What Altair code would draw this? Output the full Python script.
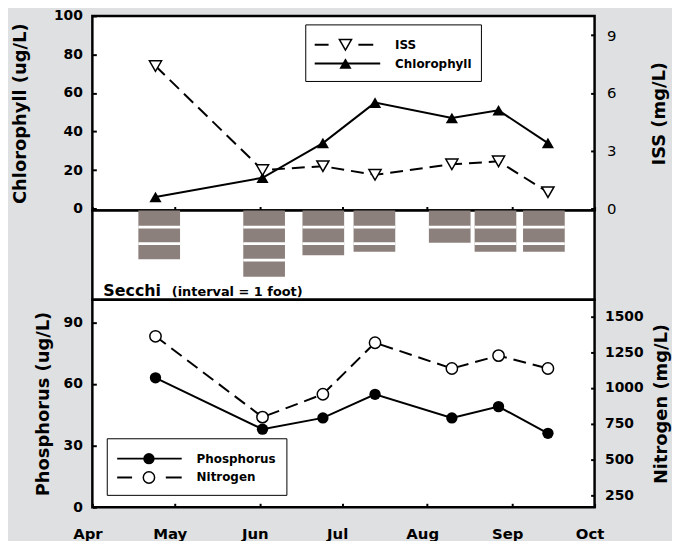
import math
import altair as alt
import pandas as pd

# ---------------- data ----------------
dates = ["2000-04-24", "2000-06-02", "2000-06-24", "2000-07-13",
         "2000-08-10", "2000-08-27", "2000-09-14"]
chlorophyll = [6, 16, 34, 55, 47, 51, 34]          # ug/L
iss = [7.4, 2.0, 2.2, 1.75, 2.3, 2.45, 0.85]        # mg/L
secchi = [2.95, 4.0, 2.7, 2.5, 1.95, 2.5, 2.5]     # feet
phosphorus = [63, 38, 43.5, 55, 43.5, 49, 36]       # ug/L
nitrogen = [1360, 795, 955, 1315, 1135, 1225, 1135] # mg/L
month_numbers = [4, 5, 6, 7, 8, 9, 10]
chl_ticks = [0, 20, 40, 60, 80, 100]
iss_ticks = [0, 3, 6, 9]
phos_ticks = [0, 30, 60, 90]
nit_ticks = [250, 500, 750, 1000, 1250, 1500]

FONT = "DejaVu Sans"
W = 506

df = pd.DataFrame({"date": dates, "chl": chlorophyll, "iss": iss,
                   "phos": phosphorus, "nit": nitrogen, "secchi": secchi})
seg_rows = []
for d, s in zip(dates, secchi):
    for k in range(1, math.ceil(s)):
        seg_rows.append({"date": d, "k": k})
seg_df = pd.DataFrame(seg_rows)
one = pd.DataFrame({"a": [0]})

x_scale = alt.Scale(type="utc", nice=False,
                    domain=[alt.DateTime(year=2000, month=4, date=1, utc=True),
                            alt.DateTime(year=2000, month=10, date=1, utc=True)])
tick_vals = [alt.DateTime(year=2000, month=m, date=1, utc=True) for m in month_numbers]

tick_style = dict(domain=False, grid=False, ticks=True, tickSize=4, tickWidth=2,
                  tickColor="black", offset=-4)

x_top = alt.X("date:T", scale=x_scale,
              axis=alt.Axis(values=tick_vals, labels=False, title=None, **tick_style))
x_none = alt.X("date:T", scale=x_scale, axis=None)
x_bot = alt.X("date:T", scale=x_scale,
              axis=alt.Axis(values=tick_vals, format="%b", title=None, labelFlush=False,
                            labelOffset=-5, labelPadding=19, labelFontSize=15,
                            labelOverlap=False, **tick_style))

# ---------------- top panel ----------------
y_chl = alt.Y("chl:Q", scale=alt.Scale(domain=[-1, 100], nice=False, zero=False),
              axis=alt.Axis(values=chl_ticks, title="Chlorophyll (ug/L)", labelPadding=10,
                            labelFontSize=14, titleFontSize=18, titlePadding=24,
                            labelOverlap=False, format="d", **tick_style))
y_iss = alt.Y("iss:Q", scale=alt.Scale(domain=[-0.1, 10], nice=False, zero=False),
              axis=alt.Axis(orient="right", values=iss_ticks, title="ISS (mg/L)",
                            titleAngle=270, labelPadding=12, labelFontSize=15,
                            labelFontWeight="normal", titleFontSize=18, titlePadding=53,
                            labelOverlap=False, format="d", **tick_style))

base = alt.Chart(df)
chl_line = base.mark_line(color="black", strokeWidth=2).encode(x=x_top, y=y_chl)
chl_pt = base.mark_point(shape="triangle-up", filled=True, color="black", size=150,
                         opacity=1).encode(x=x_top, y=y_chl)
iss_line = base.mark_line(color="black", strokeWidth=2, strokeDash=[13, 7]).encode(x=x_top, y=y_iss)
iss_pt = base.mark_point(shape="triangle-down", filled=True, fill="white", stroke="black",
                         strokeWidth=1.5, size=150, opacity=1).encode(x=x_top, y=y_iss)

lg = alt.Chart(one)
top_legend = alt.layer(
    lg.mark_rect(fill="white", stroke="black", strokeWidth=1).encode(
        x=alt.value(215), x2=alt.value(392), y=alt.value(9), y2=alt.value(66)),
    lg.mark_rule(color="black", strokeWidth=2).encode(
        x=alt.value(224), x2=alt.value(238), y=alt.value(29)),
    lg.mark_rule(color="black", strokeWidth=2).encode(
        x=alt.value(268), x2=alt.value(283), y=alt.value(29)),
    lg.mark_point(shape="triangle-down", filled=True, fill="white", stroke="black",
                  strokeWidth=1.5, size=150, opacity=1).encode(x=alt.value(255), y=alt.value(29)),
    lg.mark_rule(color="black", strokeWidth=2).encode(
        x=alt.value(224), x2=alt.value(290), y=alt.value(48)),
    lg.mark_point(shape="triangle-up", filled=True, color="black", size=150,
                  opacity=1).encode(x=alt.value(255), y=alt.value(48)),
    lg.mark_text(align="left", baseline="middle", font=FONT, fontWeight="bold",
                 fontSize=12, color="black").encode(
        x=alt.value(305), y=alt.value(29), text=alt.value("ISS")),
    lg.mark_text(align="left", baseline="middle", font=FONT, fontWeight="bold",
                 fontSize=12, color="black").encode(
        x=alt.value(305), y=alt.value(48), text=alt.value("Chlorophyll")),
)

top = alt.layer(
    alt.layer(chl_line, chl_pt),
    alt.layer(iss_line, iss_pt),
    top_legend,
).resolve_scale(y="independent").properties(width=W, height=196)

# ---------------- Secchi panel ----------------
y_sec_scale = alt.Scale(domain=[0, 5.4], reverse=True, nice=False, zero=False)
bars = alt.Chart(df).mark_bar(size=42, color="#8c807c").encode(
    x=x_none,
    y=alt.Y("secchi:Q", scale=y_sec_scale, axis=None),
    y2=alt.datum(0),
)
gaps = alt.Chart(seg_df).mark_tick(orient="horizontal", size=42, thickness=2.7,
                                   color="white", opacity=1).encode(
    x=x_none,
    y=alt.Y("k:Q", scale=y_sec_scale, axis=None),
)
sec_t1 = alt.Chart(one).mark_text(align="left", baseline="alphabetic", font=FONT,
                                  fontWeight="bold", fontSize=16, color="black").encode(
    x=alt.value(11), y=alt.value(86), text=alt.value("Secchi"))
sec_t2 = alt.Chart(one).mark_text(align="left", baseline="alphabetic", font=FONT,
                                  fontWeight="bold", fontSize=13, color="black").encode(
    x=alt.value(80), y=alt.value(86), text=alt.value("(interval = 1 foot)"))
mid = alt.layer(bars, gaps, sec_t1, sec_t2).properties(width=W, height=90)

# ---------------- bottom panel ----------------
y_p = alt.Y("phos:Q", scale=alt.Scale(domain=[0, 101], nice=False, zero=False),
            axis=alt.Axis(values=phos_ticks, title="Phosphorus (ug/L)", labelPadding=10,
                          labelFontSize=14, titleFontSize=18, titlePadding=11,
                          labelOverlap=False, format="d", **tick_style))
y_n = alt.Y("nit:Q", scale=alt.Scale(domain=[165, 1615], nice=False, zero=False),
            axis=alt.Axis(orient="right", values=nit_ticks, title="Nitrogen (mg/L)",
                          titleAngle=270, labelPadding=10, labelFontSize=14,
                          titleFontSize=18, titlePadding=27, labelOverlap=False,
                          format="d", **tick_style))

p_line = base.mark_line(color="black", strokeWidth=2).encode(x=x_bot, y=y_p)
p_pt = base.mark_point(shape="circle", filled=True, color="black", size=130,
                       opacity=1).encode(x=x_bot, y=y_p)
n_line = base.mark_line(color="black", strokeWidth=2, strokeDash=[13, 7]).encode(x=x_bot, y=y_n)
n_pt = base.mark_point(shape="circle", filled=True, fill="white", stroke="black",
                       strokeWidth=1.5, size=130, opacity=1).encode(x=x_bot, y=y_n)

bot_legend = alt.layer(
    lg.mark_rect(fill="white", stroke="black", strokeWidth=1).encode(
        x=alt.value(15), x2=alt.value(196), y=alt.value(140), y2=alt.value(197)),
    lg.mark_rule(color="black", strokeWidth=2).encode(
        x=alt.value(25), x2=alt.value(90), y=alt.value(160)),
    lg.mark_point(shape="circle", filled=True, color="black", size=130,
                  opacity=1).encode(x=alt.value(57), y=alt.value(160)),
    lg.mark_rule(color="black", strokeWidth=2).encode(
        x=alt.value(25), x2=alt.value(40), y=alt.value(179)),
    lg.mark_rule(color="black", strokeWidth=2).encode(
        x=alt.value(74), x2=alt.value(90), y=alt.value(179)),
    lg.mark_point(shape="circle", filled=True, fill="white", stroke="black",
                  strokeWidth=1.5, size=130, opacity=1).encode(x=alt.value(57), y=alt.value(179)),
    lg.mark_text(align="left", baseline="middle", font=FONT, fontWeight="bold",
                 fontSize=12, color="black").encode(
        x=alt.value(105), y=alt.value(160), text=alt.value("Phosphorus")),
    lg.mark_text(align="left", baseline="middle", font=FONT, fontWeight="bold",
                 fontSize=12, color="black").encode(
        x=alt.value(105), y=alt.value(179), text=alt.value("Nitrogen")),
)

bot = alt.layer(
    alt.layer(p_line, p_pt),
    alt.layer(n_line, n_pt),
    bot_legend,
).resolve_scale(y="independent").properties(width=W, height=209)

chart = alt.vconcat(top, mid, bot, spacing=0, bounds="flush").configure(
    background="#dfe0e2",
    padding={"left": 2, "top": -3, "right": 0, "bottom": 0},
).configure_view(
    stroke="black", strokeWidth=2.5, fill="white"
).configure_axis(
    labelFont=FONT, titleFont=FONT, labelFontWeight="bold", titleFontWeight="bold",
    labelColor="black", titleColor="black",
)

chart.save("out.html", embed_options={"renderer": "svg", "actions": False})
